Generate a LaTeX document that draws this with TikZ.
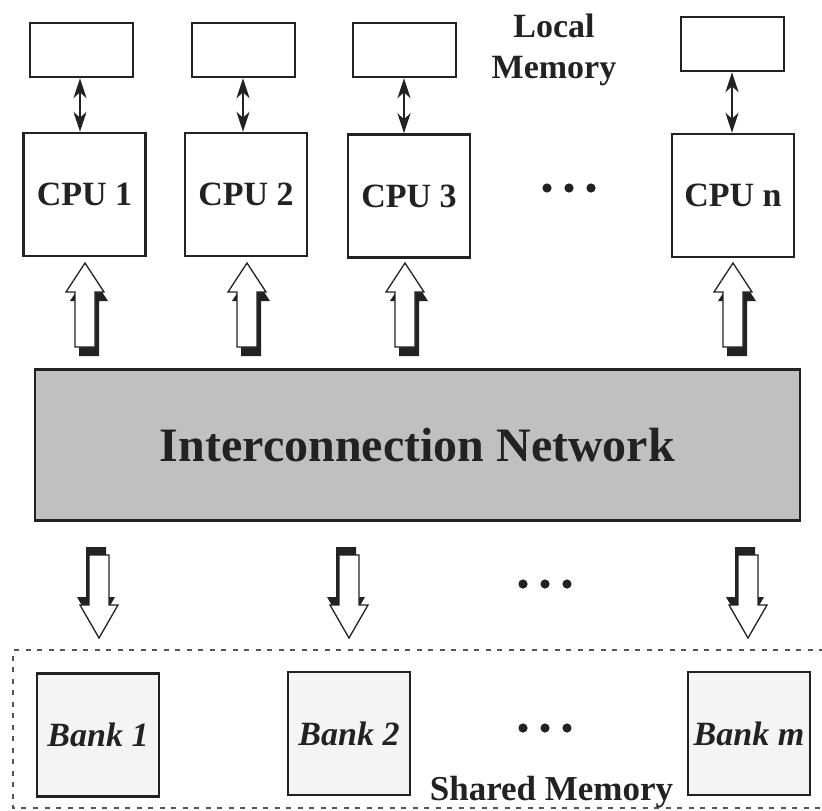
\documentclass[tikz,border=0pt]{standalone}
\usepackage{fontspec}
\setmainfont{Liberation Serif}
\usetikzlibrary{arrows.meta,calc}

\definecolor{ink}{RGB}{34,34,34}
\definecolor{netgray}{RGB}{192,192,192}
\definecolor{bankfill}{RGB}{244,244,244}
\definecolor{framegray}{RGB}{85,85,85}

\tikzset{
  bigtext/.style={font=\fontsize{34}{41}\selectfont\bfseries, text=ink},
  memcell/.style={draw=ink, line width=2.4pt, fill=white,
    minimum width=103pt, minimum height=54pt, inner sep=0pt},
  cpubox/.style={draw=ink, line width=2.4pt, fill=white,
    minimum width=122pt, minimum height=123pt, inner sep=0pt, bigtext},
  bankbox/.style={draw=ink, line width=2.4pt, fill=bankfill,
    minimum width=122pt, minimum height=123pt, inner sep=0pt,
    font=\fontsize{34}{41}\selectfont\bfseries\itshape, text=ink},
  netbox/.style={draw=ink, line width=2.8pt, fill=netgray,
    minimum width=765pt, minimum height=151pt, inner sep=0pt,
    font=\fontsize{48}{56}\selectfont\bfseries, text=ink},
  dblarrow/.style={draw=ink, line width=2.4pt,
    {Stealth[length=20pt,width=13pt,inset=6pt]}-{Stealth[length=20pt,width=13pt,inset=6pt]}},
  blockline/.style={draw=ink, line width=1.3pt, fill=white, line join=miter},
  sharedframe/.style={draw=framegray, line width=2.6pt, dash pattern=on 5pt off 6.5pt},
  % hollow block arrow pointing up, tip at the origin, extruded down-right
  uparrow/.pic={
    \fill[ink] (4,9) -- (23,38) -- (14,38) -- (14,93) -- (-6,93) -- (-6,38) -- (-15,38) -- cycle;
    \path[blockline] (0,0) -- (19,29) -- (10,29) -- (10,84) -- (-10,84) -- (-10,29) -- (-19,29) -- cycle;
  },
  % hollow block arrow pointing down, tip at the origin, extruded up-left
  downarrow/.pic={
    \fill[ink] (-3,-8) -- (16,-41) -- (7,-41) -- (7,-91) -- (-13,-91) -- (-13,-41) -- (-22,-41) -- cycle;
    \path[blockline] (0,0) -- (19,-33) -- (10,-33) -- (10,-83) -- (-10,-83) -- (-10,-33) -- (-19,-33) -- cycle;
  },
}

\begin{document}
\begin{tikzpicture}[x=1pt, y=-1pt]
  \useasboundingbox (0,0) rectangle (822,811);

  % local memories
  \node[memcell] (lm1) at (81.5,50) {};
  \node[memcell] (lm2) at (243.5,50) {};
  \node[memcell] (lm3) at (404.5,50) {};
  \node[memcell] (lmn) at (732.5,44) {};
  \node[bigtext, align=center] (lmlabel) at (554,50) {Local\\Memory};

  % processors
  \node[cpubox] (cpu1) at (84.5,194.5) {CPU 1};
  \node[cpubox] (cpu2) at (246,194.5) {CPU 2};
  \node[cpubox] (cpu3) at (409,196) {CPU 3};
  \node[cpubox] (cpun) at (733,195.5) {CPU n};

  % processor <-> local memory links
  \draw[dblarrow] (lm1.south -| 80,0) -- (cpu1.north -| 80,0);
  \draw[dblarrow] (lm2.south -| 243,0) -- (cpu2.north -| 243,0);
  \draw[dblarrow] (lm3.south -| 404,0) -- (cpu3.north -| 404,0);
  \draw[dblarrow] (lmn.south -| 732,0) -- (cpun.north -| 732,0);

  % ellipsis between processors
  \foreach \x in {547,569,591} \fill[ink] (\x,188) circle (4.6);

  % interconnection network
  \node[netbox] (net) at (417.5,445) {Interconnection Network};

  % network -> processor block arrows
  \pic at (85,263) {uparrow};
  \pic at (247,263) {uparrow};
  \pic at (405,263) {uparrow};
  \pic at (733,263) {uparrow};

  % network -> memory bank block arrows
  \pic at (99,638) {downarrow};
  \pic at (349,638) {downarrow};
  \pic at (748,638) {downarrow};
  \foreach \x in {523,545,567} \fill[ink] (\x,584) circle (4.6);

  % shared memory region
  \draw[sharedframe] (824,650) -- (13,650) -- (13,808) -- (824,808);
  \node[bankbox] (bank1) at (98,735) {Bank 1};
  \node[bankbox] (bank2) at (349,733.5) {Bank 2};
  \node[bankbox] (bankm) at (749,733.5) {Bank m};
  \foreach \x in {523,545,567} \fill[ink] (\x,728) circle (4.6);
  \node[bigtext, anchor=base, font=\fontsize{35}{41}\selectfont\bfseries] (sharedlabel) at (551.5,800) {Shared Memory};
\end{tikzpicture}
\end{document}
